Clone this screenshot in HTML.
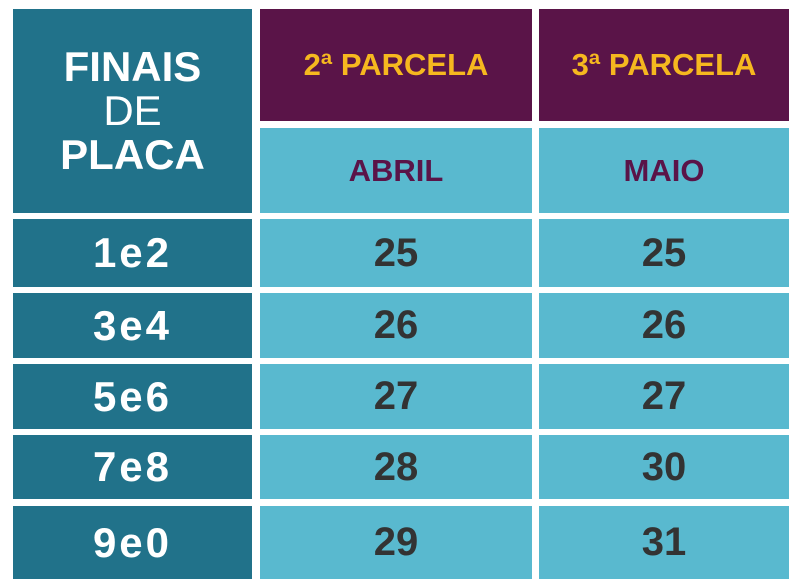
<!DOCTYPE html><html><head><style>
body{margin:0;width:800px;height:588px;background:#fff;position:relative;overflow:hidden;font-family:"Liberation Sans",sans-serif;font-weight:bold}
.c{position:absolute;display:flex;align-items:center;justify-content:center;text-align:center}
.t{background:#21728a;color:#fff}
.p{background:#5a1448;color:#f6b81f;font-size:31px}
.l{background:#59b9cf;color:#333;font-size:40px}
.m{color:#5a1448;font-size:31px}
.k{font-size:42px;letter-spacing:3px}
</style></head><body>
<div class="c t" style="left:13px;top:9px;width:239px;height:204px;font-size:42px;line-height:44px;flex-direction:column">FINAIS<span style="font-weight:normal">DE</span>PLACA</div>
<div class="c p" style="left:260px;top:9px;width:272px;height:112px">2ª PARCELA</div>
<div class="c p" style="left:539px;top:9px;width:250px;height:112px">3ª PARCELA</div>
<div class="c l m" style="left:260px;top:128px;width:272px;height:85px">ABRIL</div>
<div class="c l m" style="left:539px;top:128px;width:250px;height:85px">MAIO</div>

<div class="c t k" style="left:13px;top:219px;width:239px;height:68px">1e2</div>
<div class="c l" style="left:260px;top:219px;width:272px;height:68px">25</div>
<div class="c l" style="left:539px;top:219px;width:250px;height:68px">25</div>

<div class="c t k" style="left:13px;top:293px;width:239px;height:65px">3e4</div>
<div class="c l" style="left:260px;top:293px;width:272px;height:65px">26</div>
<div class="c l" style="left:539px;top:293px;width:250px;height:65px">26</div>

<div class="c t k" style="left:13px;top:364px;width:239px;height:65px">5e6</div>
<div class="c l" style="left:260px;top:364px;width:272px;height:65px">27</div>
<div class="c l" style="left:539px;top:364px;width:250px;height:65px">27</div>

<div class="c t k" style="left:13px;top:435px;width:239px;height:64px">7e8</div>
<div class="c l" style="left:260px;top:435px;width:272px;height:64px">28</div>
<div class="c l" style="left:539px;top:435px;width:250px;height:64px">30</div>

<div class="c t k" style="left:13px;top:506px;width:239px;height:73px">9e0</div>
<div class="c l" style="left:260px;top:506px;width:272px;height:73px">29</div>
<div class="c l" style="left:539px;top:506px;width:250px;height:73px">31</div>
</body></html>
